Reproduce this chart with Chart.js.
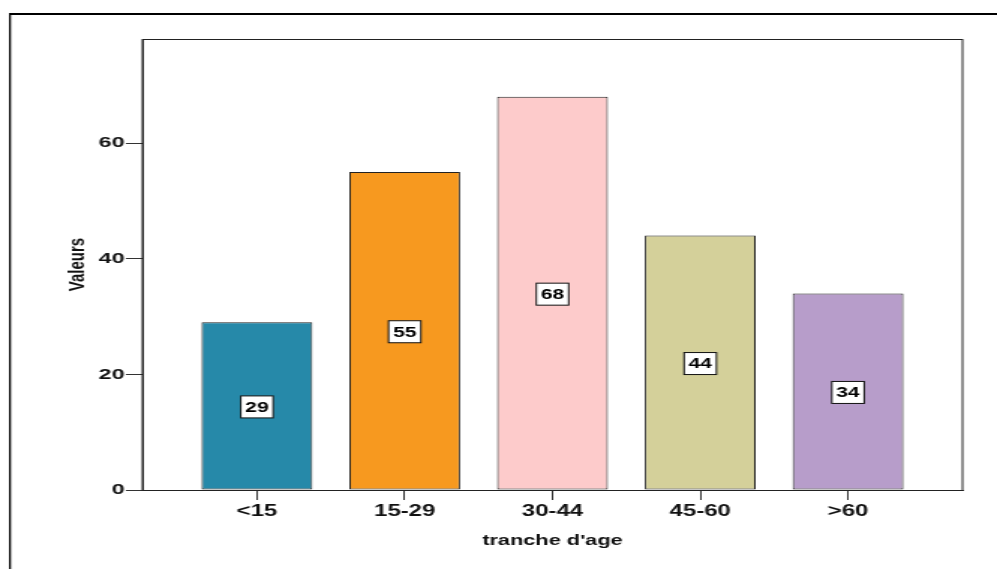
<!DOCTYPE html>
<html lang="fr">
<head>
  <meta charset="utf-8" />
  <title>Valeurs par tranche d'age</title>
  <script src="https://cdn.jsdelivr.net/npm/chart.js@4/dist/chart.umd.min.js"></script>
  <style>
    html, body {
      margin: 0;
      padding: 0;
      background: #fff;
    }
    /* canvas is drawn narrow and stretched wide, like the exported graphic */
    #ages {
      display: block;
      width: 997px !important;
      height: 569px !important;
    }
  </style>
</head>
<body>
  <canvas id="ages" width="665" height="569"></canvas>

  <script>
    // Data
    const categories = ["<15", "15-29", "30-44", "45-60", ">60"];
    const values = [29, 55, 68, 44, 34];
    const barColors = ["#2689a9", "#f7991f", "#fdcbcb", "#d4d09a", "#b79dca"];
    const yTicks = [0, 20, 40, 60];

    const FONT = '"Liberation Sans", Arial, sans-serif';
    const INK = "#111";

    // Outer frame, plot box and the boxed value labels in the bars
    const framesAndLabels = {
      id: "framesAndLabels",
      beforeDraw(chart) {
        const ctx = chart.ctx;
        ctx.save();
        ctx.fillStyle = "#000";
        ctx.fillRect(6, 13, chart.width - 6, 2);
        ctx.fillRect(6, 13, 1.3, chart.height - 13);
        ctx.restore();
      },
      afterDatasetsDraw(chart) {
        const { ctx, chartArea: a } = chart;
        ctx.save();
        ctx.strokeStyle = "#222";
        ctx.lineWidth = 1;
        ctx.strokeRect(a.left, a.top + 0.5, a.right - a.left, a.bottom - a.top);

        ctx.font = "bold 14px " + FONT;
        ctx.textAlign = "center";
        ctx.textBaseline = "middle";
        chart.getDatasetMeta(0).data.forEach((bar, i) => {
          const txt = String(values[i]);
          const w = ctx.measureText(txt).width + 6;
          const h = 22;
          const cx = bar.x;
          const cy = (bar.y + bar.base) / 2 + 1;
          ctx.fillStyle = "#fff";
          ctx.fillRect(cx - w / 2, cy - h / 2, w, h);
          ctx.strokeStyle = "#111";
          ctx.lineWidth = 1;
          ctx.strokeRect(cx - w / 2, cy - h / 2, w, h);
          ctx.fillStyle = "#000";
          ctx.fillText(txt, cx, cy + 1);
        });
        ctx.restore();
      }
    };

    new Chart(document.getElementById("ages"), {
      type: "bar",
      data: {
        datasets: [{
          data: values.map((v, i) => ({ x: i, y: v })),
          backgroundColor: barColors,
          borderColor: "#222",
          borderWidth: 1,
          borderSkipped: false,
          categoryPercentage: 1,
          barPercentage: 0.75
        }]
      },
      options: {
        responsive: false,
        animation: false,
        devicePixelRatio: 1,
        layout: { padding: { left: 30, right: 23, top: 39, bottom: 0 } },
        plugins: {
          legend: { display: false },
          tooltip: { enabled: false }
        },
        scales: {
          x: {
            type: "linear",
            min: -0.775,
            max: 4.775,
            offset: false,
            afterBuildTicks: s => { s.ticks = categories.map((_, i) => ({ value: i })); },
            afterFit: s => { s.height = 79; },
            grid: { drawOnChartArea: false, offset: false, tickLength: 10, color: "#333" },
            border: { color: "#222", width: 1 },
            ticks: {
              padding: 2,
              color: INK,
              autoSkip: false,
              maxRotation: 0,
              font: { family: FONT, size: 16, weight: "bold" },
              callback: v => categories[v] ?? ""
            },
            title: {
              display: true,
              text: "tranche d'age",
              color: INK,
              font: { family: FONT, size: 14.5, weight: "bold" },
              padding: { top: 0, bottom: 19 }
            }
          },
          y: {
            min: 0,
            max: 78,
            afterBuildTicks: s => { s.ticks = yTicks.map(v => ({ value: v })); },
            afterFit: s => { s.width = 65; },
            grid: { drawOnChartArea: false, tickLength: 11, color: "#333" },
            border: { color: "#222", width: 1 },
            ticks: {
              padding: 1,
              color: INK,
              font: { family: FONT, size: 15.5, weight: "bold" }
            },
            title: {
              display: true,
              text: "Valeurs",
              color: INK,
              font: { family: FONT, size: 15, weight: "bold" },
              padding: { top: 13, bottom: 0 }
            }
          }
        }
      },
      plugins: [framesAndLabels]
    });
  </script>
</body>
</html>
